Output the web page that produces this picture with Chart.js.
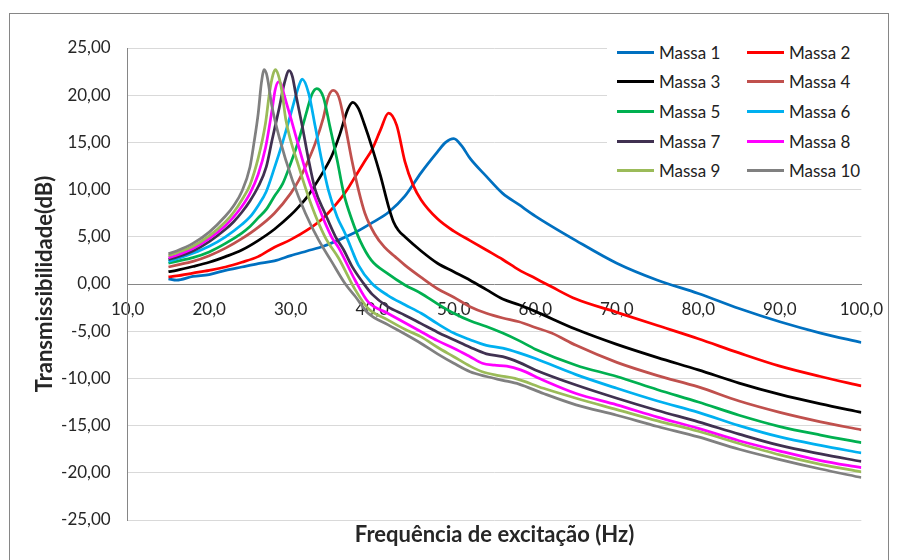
<!DOCTYPE html>
<html>
<head>
<meta charset="utf-8">
<script src="https://cdn.jsdelivr.net/npm/chart.js@4.4.0/dist/chart.umd.min.js"></script>
<style>
  html, body { margin: 0; padding: 0; background: #fff; }
  #wrap { position: relative; width: 898px; height: 560px; overflow: hidden; }
  #frame { position: absolute; left: 9px; top: 13px; width: 880px; height: 600px;
           border: 1px solid #868686; box-sizing: border-box; pointer-events: none; }
  #legend { position: absolute; left: 607px; top: 36px; width: 259px; height: 152px; background: #fff; }
  .item { position: absolute; height: 20px; display: flex; align-items: center;
          font: 17px Lato, sans-serif; color: #222; white-space: nowrap; }
  .item .swatch { width: 37px; height: 3px; margin-right: 5px; }
</style>
</head>
<body>
<div id="wrap">
  <canvas id="chart" width="898" height="560"></canvas>
  <div id="frame"></div>
  <div id="legend"></div>
</div>
<script>
// series names
const names = ["Massa 1", "Massa 2", "Massa 3", "Massa 4", "Massa 5",
               "Massa 6", "Massa 7", "Massa 8", "Massa 9", "Massa 10"];

// frequencies (Hz) and transmissibility (dB)
const freq1 = [15,16,18,20,22,24,26,28,30,32,34,36,38,40,42,44,46,48,49,50,51,52,54,56,58,60,65,70,75,80,85,90,95,100];
const db1   = [0.55,0.4,0.8,1.0,1.45,1.8,2.15,2.45,3.0,3.5,4.0,4.7,5.5,6.5,7.6,9.3,11.8,14.0,15.0,15.4,14.6,13.3,11.4,9.6,8.4,7.2,4.6,2.2,0.4,-1.0,-2.6,-4.0,-5.2,-6.2];

const freq2 = [15,16,18,20,22,24,26,28,30,32,34,36,37,38,39,40,41,42,43,44,45,46,48,50,52,54,56,58,60,62,65,70,75,80,85,90,95,100];
const db2   = [0.75,0.85,1.15,1.45,1.8,2.3,2.9,3.9,4.7,5.7,7.0,8.9,10.1,11.5,12.9,14.3,16.3,18.1,16.8,13.0,10.5,8.9,6.9,5.6,4.6,3.6,2.6,1.5,0.6,-0.3,-1.6,-3.0,-4.4,-5.8,-7.3,-8.7,-9.8,-10.8];

const freq3 = [15,16,18,20,22,24,26,28,30,31,32,33,34,35,36,37,37.6,38.3,39,40,41,42,42.6,43.2,44,46,48,50,52,54,56,58,60,65,70,75,80,85,90,95,100];
const db3   = [1.3,1.45,1.85,2.3,2.9,3.6,4.6,5.8,7.3,8.2,9.2,10.5,11.9,13.5,15.8,18.5,19.25,18.6,17.0,14.4,11.5,8.2,6.6,5.7,5.0,3.5,2.2,1.3,0.4,-0.6,-1.6,-2.2,-2.9,-4.8,-6.4,-7.8,-9.1,-10.5,-11.7,-12.7,-13.6];

const freq4 = [15,16,18,20,22,24,26,28,30,31,32,33,34,34.6,35.2,35.9,36.7,37.5,38.3,39.1,40.3,41.5,42.8,44,46,48,50,52,54,56,58,60,62,65,70,75,80,85,90,95,100];
const db4   = [1.8,2.0,2.4,3.0,3.8,4.8,6.0,7.5,9.6,11.0,12.8,14.9,17.6,19.8,20.5,19.8,16.7,13.1,10.0,7.5,5.3,3.9,2.9,2.0,0.7,-0.5,-1.4,-2.4,-3.1,-3.6,-4.0,-4.6,-5.2,-6.5,-8.3,-9.7,-10.9,-12.4,-13.6,-14.6,-15.45];

const freq5 = [15,16,18,20,22,24,25,26,27,28,29,30,31,32,32.6,33.2,34,34.8,35.7,36.5,37.5,38.5,39.9,41.9,44,46,48,50,52,54,56,58,60,65,70,75,80,85,90,95,100];
const db5   = [2.2,2.4,2.8,3.4,4.3,5.4,6.1,7.0,7.9,9.3,10.6,12.8,15.3,18.4,20.1,20.7,19.8,16.7,13.1,9.6,6.8,4.6,2.5,1.1,-0.1,-1.0,-2.1,-3.1,-3.9,-4.5,-5.2,-6.0,-6.9,-8.6,-9.8,-11.2,-12.5,-13.9,-15.1,-16.0,-16.8];

const freq6 = [15,16,18,20,22,24,25,26,27,28,29,30,31,31.4,32.2,33,33.8,34.6,35.7,36.7,37.5,38.3,39.9,41.9,44,46,48,50,52,54,56,58,60,65,70,75,80,85,90,95,100];
const db6   = [2.4,2.65,3.25,4.0,5.0,6.3,7.1,8.3,9.8,12.3,15.0,18.0,21.0,21.7,20.2,16.7,13.1,10.0,7.1,5.3,3.6,2.0,0.1,-1.2,-2.2,-3.1,-4.2,-5.2,-5.9,-6.5,-6.8,-7.3,-7.9,-9.6,-11.05,-12.4,-13.6,-15.0,-16.2,-17.1,-17.9];

const freq7 = [15,16,18,20,22,23,24,25,26,27,27.7,28.6,29.2,29.8,30.2,30.6,31.4,32.2,33,34.2,35.5,36.5,37.5,38.9,40,41.9,44,46,48,50,52,54,56,58,60,65,70,75,80,85,90,95,100];
const db7   = [2.6,2.85,3.5,4.5,5.8,6.6,7.6,8.8,10.3,12.4,15.2,18.7,21.2,22.6,22.0,20.2,16.8,13.1,10.0,7.5,5.0,3.6,1.9,0.1,-1.1,-2.4,-3.3,-4.2,-5.1,-5.9,-6.7,-7.4,-7.7,-8.3,-9.1,-10.7,-12.1,-13.4,-14.6,-15.9,-17.1,-18.0,-18.8];

const freq8 = [15,16,18,20,22,23,24,25,26,26.9,27.7,28.1,28.5,28.9,29.2,30.2,31.8,33.4,35,35.9,37.9,39.5,41.9,44,46,48,50,52,53.5,55,56.5,58.2,61,65,70,75,80,85,90,95,100];
const db8   = [2.8,3.05,3.75,4.8,6.2,7.1,8.2,9.6,11.6,14.4,18.4,20.6,21.4,21.0,20.0,17.0,12.1,8.2,5.0,3.8,0.4,-1.9,-3.1,-4.1,-5.05,-6.0,-6.8,-7.7,-8.4,-8.6,-8.7,-9.1,-10.2,-11.6,-12.8,-14.1,-15.3,-16.6,-17.7,-18.7,-19.45];

const freq9 = [15,16,18,20,22,23,24,25,26,26.9,27.4,27.8,28.1,28.45,28.9,29.4,31,32.6,34.2,35.9,37.9,39.5,41.9,44,46,48,50,52,53.5,55.5,57.5,61,65,70,75,80,85,90,95,100];
const db9   = [3.0,3.3,4.0,5.1,6.6,7.6,8.9,10.5,13.3,17.0,20.3,22.1,22.7,22.2,20.5,17.4,12.4,8.2,5.0,2.7,-0.6,-2.6,-3.8,-4.8,-5.6,-6.7,-7.7,-8.7,-9.3,-9.7,-10.0,-11.05,-12.1,-13.3,-14.5,-15.6,-16.9,-18.1,-19.1,-19.9];

const freq10 = [15,16,18,20,22,23,24,25,25.5,26,26.4,26.75,27.1,27.7,28.6,30.2,31.8,33.4,35,36.7,37.9,39.5,41.9,44,46,48,50,52,54,56,58,61,65,70,75,80,85,90,95,100];
const db10   = [3.2,3.5,4.3,5.5,7.2,8.3,9.8,12.4,15.0,18.0,21.3,22.7,22.0,18.8,15.5,11.0,7.5,4.7,2.4,0,-1.3,-3.1,-4.3,-5.3,-6.3,-7.4,-8.4,-9.3,-9.8,-10.2,-10.6,-11.6,-12.8,-13.9,-15.1,-16.2,-17.5,-18.6,-19.6,-20.5];

const freqs = [freq1, freq2, freq3, freq4, freq5, freq6, freq7, freq8, freq9, freq10];
const values = [db1, db2, db3, db4, db5, db6, db7, db8, db9, db10];

const colors = ["#0070C0", "#FF0000", "#000000", "#C0504D", "#00B050",
                "#00B0F0", "#403151", "#FF00FF", "#9BBB59", "#808080"];

const FONT = "Lato";
const TEXT = "#262626";

const datasets = names.map((name, i) => ({
  label: name,
  data: freqs[i].map((f, k) => ({ x: f, y: values[i][k] })),
  xAxisID: "x",
  yAxisID: "y",
  borderColor: colors[i],
  backgroundColor: colors[i],
  borderWidth: 2.75,
  pointRadius: 0,
  cubicInterpolationMode: "monotone",
  // excel draws later series on top
  order: names.length - i,
}));

const chart = new Chart(document.getElementById("chart"), {
  type: "line",
  data: { datasets },
  options: {
    responsive: false,
    animation: false,
    devicePixelRatio: 1,
    layout: { padding: { left: 25, top: 48, right: 31.3, bottom: 0 } },
    plugins: { legend: { display: false }, tooltip: { enabled: false } },
    scales: {
      x: {
        type: "linear",
        position: { y: 0 },
        min: 10,
        max: 100,
        ticks: {
          stepSize: 10,
          padding: 15,
          color: TEXT,
          maxRotation: 0,
          autoSkip: false,
          font: { family: FONT, size: 17 },
          callback: (v) => v.toFixed(1).replace(".", ","),
        },
        grid: { display: false, drawTicks: false },
        border: { display: true, color: "#868686", width: 1 },
      },
      xTitle: {
        type: "linear",
        axis: "x",
        position: "bottom",
        ticks: { display: false },
        grid: { display: false, drawTicks: false },
        border: { display: false },
        title: {
          display: true,
          text: "Frequência de excitação (Hz)",
          color: TEXT,
          font: { family: FONT, size: 22, weight: "bold" },
          padding: { top: 1.8, bottom: 11.8 },
        },
      },
      y: {
        type: "linear",
        min: -25,
        max: 25,
        ticks: {
          stepSize: 5,
          padding: 17,
          color: TEXT,
          font: { family: FONT, size: 17 },
          callback: (v) => v.toFixed(2).replace(".", ","),
        },
        grid: {
          drawTicks: false,
          lineWidth: 1,
          // the zero line is the x axis itself
          color: (ctx) => (ctx.tick && ctx.tick.value === 0 ? "rgba(0,0,0,0)" : "#d9d9d9"),
        },
        border: { color: "#868686", width: 1 },
        title: {
          display: true,
          text: "Transmissibilidade(dB)",
          color: TEXT,
          font: { family: FONT, size: 22, weight: "bold" },
          padding: { top: 6.8, bottom: 0 },
        },
        afterFit: (scale) => { scale.width = 102.7; },
      },
    },
  },
});

// html legend, two columns like the excel one
const legendEl = document.getElementById("legend");
chart.data.datasets.forEach((ds, i) => {
  const col = i % 2;
  const row = Math.floor(i / 2);
  const item = document.createElement("div");
  item.className = "item";
  item.style.left = (10 + col * 130) + "px";
  item.style.top = (6 + row * 29.7) + "px";
  const sw = document.createElement("span");
  sw.className = "swatch";
  sw.style.background = ds.borderColor;
  const txt = document.createElement("span");
  txt.textContent = ds.label;
  item.appendChild(sw);
  item.appendChild(txt);
  legendEl.appendChild(item);
});
</script>
</body>
</html>
